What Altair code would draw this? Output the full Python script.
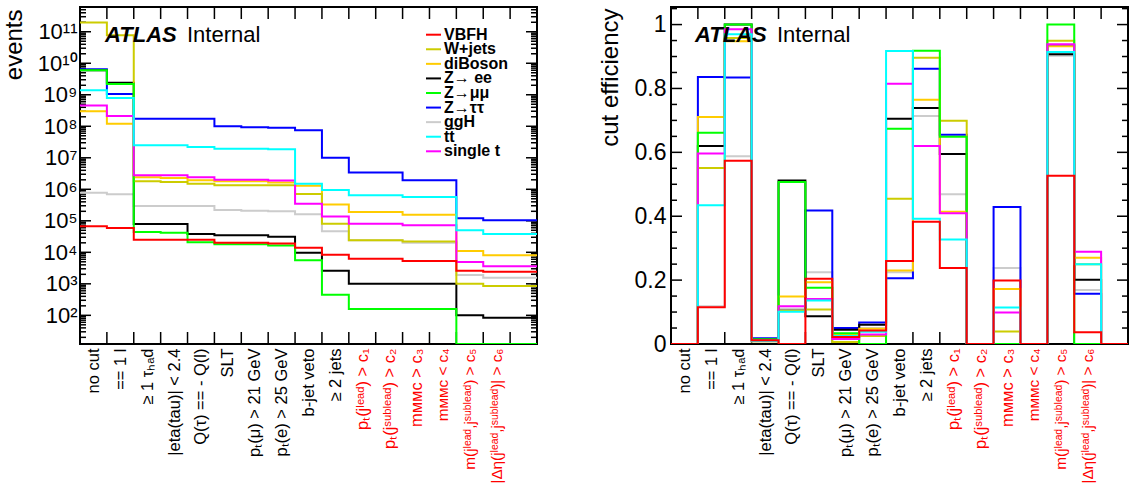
import json
import pandas as pd
import altair as alt

# ---------------- data ----------------
CUTS = ["no cut", "== 1 l", "≥ 1 τₕₐd", "|eta(tau)| < 2.4", "Q(τ) == - Q(l)", "SLT",
        "pₜ(μ) > 21 GeV", "pₜ(e) > 25 GeV", "b-jet veto", "≥ 2 jets",
        "pₜ(jˡᵉᵃᵈ) > c₁", "pₜ(jˢᵘᵇˡᵉᵃᵈ) > c₂", "mᴍᴍᴄ > c₃", "mᴍᴍᴄ < c₄",
        "m(jˡᵉᵃᵈ,jˢᵘᵇˡᵉᵃᵈ) > c₅", "|Δη(jˡᵉᵃᵈ,jˢᵘᵇˡᵉᵃᵈ)| > c₆"]
N_BINS = 17

SAMPLES = ["VBFH", "W+jets", "diBoson", "Z→ ee", "Z→μμ", "Z→ττ", "ggH", "tt̄", "single t"]
COLORS = ["#ff0000", "#cccc00", "#ffcc00", "#000000", "#00ff00", "#0000ff", "#cccccc", "#00ffff", "#ff00ff"]
DRAW_ORDER = ["ggH", "Z→ττ", "Z→ ee", "diBoson", "W+jets", "Z→μμ", "single t", "tt̄", "VBFH"]

# events after each cut (left panel)
EV_VBFH = [6.7e4, 5.9e4, 2.5e4, 2.5e4, 2.5e4, 2.0e4, 2.0e4, 1.9e4, 1.4e4, 8.3e3, 6.3e3, 6.3e3, 5.3e3, 5.3e3, 2.6e3, 2.4e3, 2.4e3]
EV_WJETS = [1.95e11, 7.7e10, 1.8e6, 1.7e6, 1.5e6, 1.35e6, 1.35e6, 1.35e6, 7.1e5, 8.1e4, 2.4e4, 2.4e4, 2.2e4, 2.2e4, 1.0e3, 8.6e2, 8.6e2]
EV_DIBOSON = [3.0e8, 1.2e8, 2.4e6, 2.3e6, 1.95e6, 1.8e6, 1.8e6, 1.65e6, 1.3e6, 3.3e5, 1.9e5, 1.9e5, 1.55e5, 1.55e5, 1.1e4, 8.0e3, 8.0e3]
EV_ZEE = [6.0e9, 2.4e9, 7.9e4, 7.9e4, 3.8e4, 3.5e4, 3.5e4, 3.1e4, 9.7e3, 2.6e3, 1.0e3, 1.0e3, 1.0e3, 1.0e3, 100, 84, 84]
EV_ZMM = [6.0e9, 2.2e9, 4.4e4, 4.2e4, 2.1e4, 1.8e4, 1.8e4, 1.65e4, 5.6e3, 4.5e2, 1.6e2, 1.6e2, 1.6e2, 1.6e2, 0, 0, 0]
EV_ZTT = [6.5e9, 1.05e9, 1.74e8, 1.74e8, 1.74e8, 1.0e8, 9.3e7, 8.9e7, 7.5e7, 1.0e7, 3.4e6, 3.4e6, 1.95e6, 1.95e6, 1.2e5, 1.05e5, 1.05e5]
EV_GGH = [7.8e5, 6.9e5, 2.95e5, 2.95e5, 2.95e5, 2.2e5, 2.1e5, 2.0e5, 1.6e5, 4.7e4, 2.4e4, 2.4e4, 2.0e4, 2.0e4, 1.9e3, 1.55e3, 1.55e3]
EV_TT = [1.4e9, 7.9e8, 2.5e7, 2.5e7, 2.2e7, 1.95e7, 1.95e7, 1.85e7, 1.5e6, 9.5e5, 6.5e5, 6.5e5, 5.7e5, 5.7e5, 5.0e4, 3.8e4, 3.8e4]
EV_SINGLET = [4.6e8, 2.1e8, 2.8e6, 2.8e6, 2.4e6, 2.0e6, 2.0e6, 1.9e6, 3.5e5, 1.38e5, 8.1e4, 8.1e4, 7.2e4, 7.2e4, 4.9e3, 3.6e3, 3.6e3]

# cut efficiency per cut (right panel)
EF_VBFH = [0, 0.115, 0.574, 0.012, 0, 0.204, 0.022, 0.042, 0.260, 0.383, 0.238, 0, 0.199, 0, 0.527, 0.037, 0]
EF_WJETS = [0, 0.551, 0.958, 0.009, 0.105, 0.108, 0.006, 0.025, 0.455, 0.896, 0.699, 0, 0.039, 0, 0.949, 0.250, 0]
EF_DIBOSON = [0, 0.711, 0.948, 0.010, 0.149, 0.193, 0.030, 0.048, 0.230, 0.765, 0.414, 0, 0.172, 0, 0.932, 0.270, 0]
EF_ZEE = [0, 0.620, 1.000, 0.014, 0.512, 0.087, 0.045, 0.060, 0.705, 0.739, 0.595, 0, 0, 0, 0.907, 0.201, 0]
EF_ZMM = [0, 0.661, 1.000, 0.015, 0.507, 0.176, 0.034, 0, 0.674, 0.918, 0.649, 0, 0, 0, 1.000, 0, 0]
EF_ZTT = [0, 0.836, 0.834, 0.018, 0.105, 0.418, 0.050, 0.067, 0.206, 0.862, 0.655, 0, 0.429, 0, 0.935, 0.157, 0]
EF_GGH = [0, 0.118, 0.588, 0.008, 0.110, 0.225, 0.030, 0.050, 0.225, 0.714, 0.469, 0, 0.238, 0, 0.902, 0.169, 0]
EF_TT = [0, 0.434, 0.970, 0.010, 0.101, 0.136, 0.025, 0.038, 0.917, 0.392, 0.327, 0, 0.114, 0, 0.914, 0.250, 0]
EF_SINGLET = [0, 0.596, 0.985, 0.011, 0.118, 0.141, 0.016, 0.030, 0.815, 0.620, 0.409, 0, 0.099, 0, 0.938, 0.289, 0]

EVENTS = dict(zip(SAMPLES, [EV_VBFH, EV_WJETS, EV_DIBOSON, EV_ZEE, EV_ZMM, EV_ZTT, EV_GGH, EV_TT, EV_SINGLET]))
EFFS = dict(zip(SAMPLES, [EF_VBFH, EF_WJETS, EF_DIBOSON, EF_ZEE, EF_ZMM, EF_ZTT, EF_GGH, EF_TT, EF_SINGLET]))

LOG_LABELS = ["10²", "10³", "10⁴", "10⁵", "10⁶", "10⁷", "10⁸", "10⁹", "10¹⁰", "10¹¹"]
LOG_MIN, LOG_MAX = 12.3, 6.1e11
EFF_MAX = 1.055
EFF_LABEL_VALUES = [0, 0.2, 0.4, 0.6, 0.8, 1.0]

# ---------------- layout constants ----------------
W, H = 457, 337
FONT = "Liberation Sans"
X_TICK, Y_MAJOR, Y_MINOR = 12, 11, 6
LEG_X0, LEG_X1, LEG_TEXT_X = 346, 361, 364     # legend box (pixels inside the left panel)
LEG_Y_FIRST, LEG_Y_LAST = 27.7, 144.3


def step_frame(table):
    rows = []
    for name, vals in table.items():
        for i in range(N_BINS + 1):
            rows.append({"sample": name, "edge": i, "value": vals[min(i, N_BINS - 1)]})
    return pd.DataFrame(rows)


x_scale = alt.Scale(domain=[0, N_BINS], nice=False, zero=False)
color_scale = alt.Scale(domain=SAMPLES, range=COLORS)
centers = [i + 0.5 for i in range(len(CUTS))]

x_axis = alt.Axis(
    values=centers,
    labelExpr=json.dumps(CUTS, ensure_ascii=False) + "[floor(datum.value)]",
    labelAngle=270, labelPadding=4, labelOverlap=False,
    labelLimit=400, labelFlush=False, labelFont=FONT,
    labelFontSize={"condition": {"test": "datum.value > 13", "value": 15.3}, "value": 16.5},
    labelColor={"condition": {"test": "datum.value > 10", "value": "#ff0000"}, "value": "#000000"},
    ticks=False, domain=False, grid=False, title=None,
)


def tick_layers(y_scale, y_axis, major, minor):
    lay = []
    edges = pd.DataFrame({"edge": list(range(1, N_BINS))})
    for y0, y1 in [(H, H - X_TICK), (0, X_TICK)]:
        lay.append(alt.Chart(edges).mark_rule(color="black", strokeWidth=1.5).encode(
            x=alt.X("edge:Q", scale=x_scale, axis=x_axis), y=alt.value(y0), y2=alt.value(y1)))
    for vals, ln in [(major, Y_MAJOR), (minor, Y_MINOR)]:
        d = pd.DataFrame({"value": vals})
        for x0, x1 in [(0, ln), (W, W - ln)]:
            lay.append(alt.Chart(d).mark_rule(color="black", strokeWidth=1.5).encode(
                y=alt.Y("value:Q", scale=y_scale, axis=y_axis), x=alt.value(x0), x2=alt.value(x1)))
    return lay


def line_layers(df, y_scale, y_axis):
    lay = []
    for name in DRAW_ORDER:
        lay.append(alt.Chart(df).transform_filter(alt.datum.sample == name).mark_line(
            interpolate="step-after", strokeWidth=2, clip=True).encode(
            x=alt.X("edge:Q", scale=x_scale, axis=x_axis),
            y=alt.Y("value:Q", scale=y_scale, axis=y_axis),
            color=alt.Color("sample:N", scale=color_scale, legend=None),
        ))
    return lay


def atlas_layers(x_atlas, x_internal, y_base):
    a = alt.Chart(pd.DataFrame({"t": ["ATLAS"]})).mark_text(
        align="left", baseline="alphabetic", fontSize=22, fontWeight="bold",
        fontStyle="italic", font=FONT, color="black").encode(
        text="t:N", x=alt.value(x_atlas), y=alt.value(y_base))
    b = alt.Chart(pd.DataFrame({"t": ["Internal"]})).mark_text(
        align="left", baseline="alphabetic", fontSize=22, font=FONT, color="black").encode(
        text="t:N", x=alt.value(x_internal), y=alt.value(y_base))
    return [a, b]


def legend_layers():
    leg_df = pd.DataFrame({"sample": SAMPLES, "rank": list(range(len(SAMPLES)))})
    leg_y = alt.Y("rank:Q", axis=None,
                  scale=alt.Scale(domain=[0, len(SAMPLES) - 1], range=[LEG_Y_FIRST, LEG_Y_LAST]))
    sym = alt.Chart(leg_df).mark_rule(strokeWidth=2).encode(
        y=leg_y, x=alt.value(LEG_X0), x2=alt.value(LEG_X1),
        color=alt.Color("sample:N", scale=color_scale, legend=None))
    txt = alt.Chart(leg_df).mark_text(
        align="left", baseline="middle", fontSize=16, fontWeight="bold", font=FONT,
        color="black").encode(y=leg_y, x=alt.value(LEG_TEXT_X), text="sample:N")
    return [sym, txt]


# ---------------- left panel: events ----------------
ev_df = step_frame(EVENTS)
ev_df["value"] = ev_df["value"].where(ev_df["value"] > 0, LOG_MIN)  # empty bins sit on the axis

log_scale = alt.Scale(type="log", domain=[LOG_MIN, LOG_MAX], nice=False)
log_major = [10.0 ** k for k in range(2, 12)]
log_minor = [m * 10.0 ** k for k in range(1, 12) for m in range(2, 10) if LOG_MIN <= m * 10.0 ** k <= LOG_MAX]

log_axis = alt.Axis(
    values=log_major,
    labelExpr=json.dumps(LOG_LABELS, ensure_ascii=False) + "[round(log(datum.value)/LN10) - 2]",
    labelFontSize=22, labelPadding=3, labelFont=FONT, labelOverlap=False, labelFlush=False,
    ticks=False, domain=False, grid=False,
    title="events", titleFontSize=24, titleFontWeight="normal", titleFont=FONT,
    titleAngle=270, titleAlign="right", titleBaseline="middle", titleX=-66, titleY=2,
)

left_main = alt.layer(
    *tick_layers(log_scale, log_axis, log_major, log_minor),
    *line_layers(ev_df, log_scale, log_axis),
    *atlas_layers(25, 107, 35),
)
left = alt.layer(left_main, *legend_layers()).resolve_scale(y="independent").properties(width=W, height=H)

# ---------------- right panel: cut efficiency ----------------
ef_df = step_frame(EFFS)
eff_scale = alt.Scale(domain=[0, EFF_MAX], nice=False, zero=True)
eff_minor = [round(0.05 * i, 2) for i in range(1, 22) if i % 4 != 0]

eff_axis = alt.Axis(
    values=EFF_LABEL_VALUES, format="~g",
    labelFontSize=23, labelPadding=5, labelFont=FONT, labelOverlap=False, labelFlush=False,
    ticks=False, domain=False, grid=False,
    title="cut efficiency", titleFontSize=24, titleFontWeight="normal", titleFont=FONT,
    titleAngle=270, titleAlign="right", titleBaseline="middle", titleX=-61, titleY=1,
)

right = alt.layer(
    *tick_layers(eff_scale, eff_axis, EFF_LABEL_VALUES, eff_minor),
    *line_layers(ef_df, eff_scale, eff_axis),
    *atlas_layers(24, 106, 35),
).properties(width=W, height=H)

chart = (
    alt.hconcat(left, right, spacing=134, bounds="flush")
    .properties(padding={"left": 1, "top": 5, "right": 0, "bottom": 0})
    .configure(font=FONT)
    .configure_view(stroke="black", strokeWidth=2)
)

chart.save("out.html", embed_options={"renderer": "svg", "actions": False})
